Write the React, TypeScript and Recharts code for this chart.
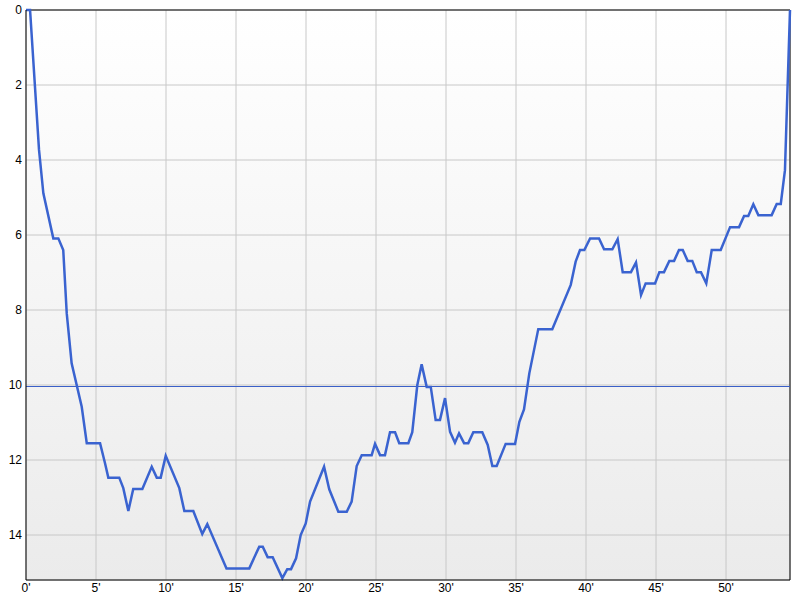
import { LineChart, Line, XAxis, YAxis, CartesianGrid, ReferenceLine } from 'recharts';

// dive profile: elapsed minutes vs depth (m)
const minutes = [
  0, 0.29, 0.93, 1.24, 1.95, 2.31, 2.66, 2.91, 3.26, 3.98, 4.34, 5.29, 5.64, 5.88, 6.66, 6.95,
  7.31, 7.66, 8.31, 8.98, 9.34, 9.62, 9.98, 10.95, 11.31, 11.95, 12.59, 12.95, 14.32, 15.95,
  16.66, 16.91, 17.26, 17.62, 18.31, 18.66, 18.93, 19.29, 19.62, 19.98, 20.29, 21.29, 21.66,
  22.31, 22.91, 23.26, 23.62, 23.98, 24.69, 24.93, 25.29, 25.64, 26.0, 26.36, 26.66, 27.31,
  27.59, 27.95, 28.26, 28.62, 28.91, 29.26, 29.57, 29.93, 30.29, 30.64, 30.93, 31.29, 31.59,
  31.95, 32.59, 32.98, 33.31, 33.62, 34.26, 34.93, 35.24, 35.57, 35.95, 36.59, 37.59, 38.91,
  39.26, 39.57, 39.88, 40.29, 40.93, 41.29, 41.88, 42.26, 42.62, 43.21, 43.57, 43.93, 44.26,
  44.93, 45.24, 45.57, 45.95, 46.29, 46.64, 46.91, 47.26, 47.59, 47.91, 48.21, 48.59, 48.98,
  49.62, 50.29, 50.93, 51.29, 51.59, 51.95, 52.31, 53.26, 53.62, 53.91, 54.21, 54.57,
];

const depth = [
  0, 0, 3.73, 4.89, 6.09, 6.09, 6.4, 8.09, 9.42, 10.58, 11.55, 11.55, 12.08, 12.47, 12.47, 12.75,
  13.36, 12.77, 12.77, 12.18, 12.47, 12.47, 11.89, 12.75, 13.36, 13.36, 13.97, 13.71, 14.89, 14.89,
  14.31, 14.31, 14.59, 14.59, 15.15, 14.91, 14.91, 14.62, 14.0, 13.69, 13.11, 12.18, 12.78,
  13.38, 13.38, 13.11, 12.16, 11.87, 11.87, 11.57, 11.87, 11.87, 11.26, 11.26, 11.55, 11.55,
  11.26, 10.0, 9.45, 10.05, 10.05, 10.93, 10.93, 10.35, 11.25, 11.54, 11.29, 11.55, 11.55,
  11.26, 11.26, 11.6, 12.16, 12.16, 11.57, 11.57, 10.98, 10.65, 9.69, 8.51, 8.51, 7.33,
  6.71, 6.4, 6.4, 6.09, 6.09, 6.38, 6.38, 6.11, 6.99, 6.99, 6.73, 7.6, 7.29,
  7.29, 6.99, 6.99, 6.69, 6.69, 6.4, 6.4, 6.69, 6.69, 6.99, 6.99, 7.29, 6.4,
  6.4, 5.79, 5.79, 5.49, 5.49, 5.18, 5.47, 5.47, 5.17, 5.17, 4.27, 0,
];

const xTicks = [0, 5, 10, 15, 20, 25, 30, 35, 40, 45, 50];
const yTicks = [0, 2, 4, 6, 8, 10, 12, 14];
const avgDepth = 10.04;
const maxMinutes = 54.57;
const maxDepth = 15.2;

const data = minutes.map((t, i) => ({ t, depth: depth[i] }));

const tickStyle = { fill: '#000', fontSize: 12, fontFamily: '"Liberation Sans", Arial, sans-serif' };

export default function App() {
  return (
    <div style={{ position: 'absolute', left: 0, top: 0, width: 800, height: 600, background: '#fff' }}>
      <LineChart width={800} height={600} data={data} margin={{ top: 10, right: 10, bottom: 0, left: 0 }}>
        <defs>
          <linearGradient id="plotBg" x1="0" y1="0" x2="0" y2="1">
            <stop offset="0%" stopColor="#ffffff" />
            <stop offset="100%" stopColor="#ebebeb" />
          </linearGradient>
        </defs>
        <CartesianGrid stroke="#c8c8c8" fill="url(#plotBg)" fillOpacity={1} />
        <XAxis
          dataKey="t"
          type="number"
          domain={[0, maxMinutes]}
          ticks={xTicks}
          tickFormatter={(v: number) => `${v}'`}
          height={20}
          tickSize={0}
          tickMargin={3}
          tick={tickStyle}
          axisLine={{ stroke: '#000' }}
          interval={0}
        />
        <YAxis
          type="number"
          domain={[0, maxDepth]}
          ticks={yTicks}
          reversed
          width={26}
          tickSize={0}
          tickMargin={4}
          tick={tickStyle}
          axisLine={{ stroke: '#000' }}
          interval={0}
        />
        <ReferenceLine y={0} stroke="#000" />
        <ReferenceLine x={maxMinutes} stroke="#000" />
        <ReferenceLine y={avgDepth} stroke="#3a5fc8" strokeWidth={1.2} />
        <Line
          type="linear"
          dataKey="depth"
          stroke="#3a63d0"
          strokeWidth={2.5}
          dot={false}
          isAnimationActive={false}
        />
      </LineChart>
    </div>
  );
}
